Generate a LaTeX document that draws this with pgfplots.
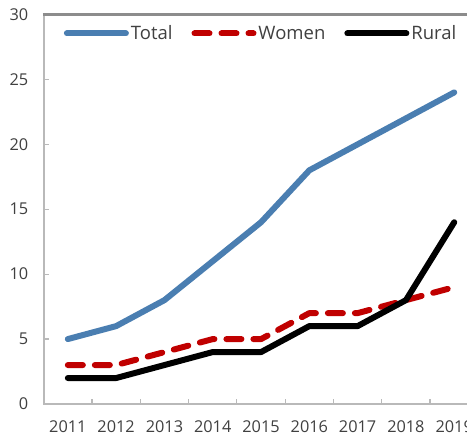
\documentclass[border=0pt]{standalone}
\usepackage{pgfplots}
\pgfplotsset{compat=1.18}
\usepackage{fontspec}
\setmainfont{Open Sans}
\definecolor{totblue}{RGB}{74,126,177}
\definecolor{womred}{RGB}{192,0,0}
\definecolor{axgray}{RGB}{185,185,185}
\definecolor{topgray}{RGB}{140,140,140}
\definecolor{txtgray}{RGB}{64,64,64}
\begin{document}
\begin{tikzpicture}
\begin{axis}[
  scale only axis,
  width=434.7bp, height=389.5bp,
  xmin=2010.5, xmax=2019.5,
  ymin=0, ymax=30,
  ytick={0,5,...,30},
  xtick={2010.5,2011.5,...,2019.5},
  xticklabels={},
  extra x ticks={2011,2012,...,2019},
  extra x tick labels={2011,2012,2013,2014,2015,2016,2017,2018,2019},
  extra x tick style={major tick length=0pt},
  tick pos=left,
  tick align=inside,
  major tick length=5bp,
  axis line style={draw=axgray, line width=1.8bp},
  tick style={draw=axgray, line width=1.2bp},
  ticklabel style={font=\fontsize{16.3bp}{19bp}\selectfont, text=txtgray},
  xticklabel style={yshift=-13bp},
  yticklabel style={xshift=-12bp},
  /pgf/number format/1000 sep={},
  /pgf/number format/assume math mode=true,
  legend columns=3,
  legend style={at={(axis description cs:0,1)}, anchor=west, xshift=20bp, yshift=-19bp,
    draw=none, fill=none, inner sep=0pt, font=\fontsize{18.5bp}{22bp}\selectfont, text=txtgray,
    /tikz/every even column/.append style={column sep=17bp}},
  legend image code/.code={\draw[#1] (0bp,0bp) -- (59bp,0bp);},
  clip=false,
]
\addplot[totblue, line width=6bp, line cap=round, line join=round] coordinates {
(2011,5) (2012,6) (2013,8) (2014,11) (2015,14) (2016,18) (2017,20) (2018,22) (2019,24)};
\addlegendentry{Total}
\addplot[womred, line width=6bp, line cap=round, line join=round, dash pattern=on 15bp off 12bp] coordinates {
(2011,3) (2012,3) (2013,4) (2014,5) (2015,5) (2016,7) (2017,7) (2018,8) (2019,9)};
\addlegendentry{Women}
\addplot[black, line width=6bp, line cap=round, line join=round] coordinates {
(2011,2) (2012,2) (2013,3) (2014,4) (2015,4) (2016,6) (2017,6) (2018,8) (2019,14)};
\addlegendentry{Rural}
\end{axis}
\draw[topgray, line width=2.5bp] (-0.9bp,389.5bp) -- (440bp,389.5bp);
\pgfresetboundingbox
\useasboundingbox (-43.7bp,-31bp) rectangle (423.3bp,404bp);
\end{tikzpicture}
\end{document}
